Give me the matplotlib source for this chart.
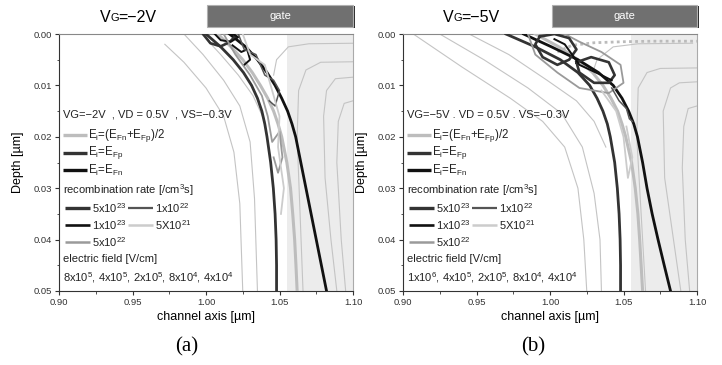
import matplotlib
matplotlib.use('Agg')
import matplotlib.pyplot as plt
from matplotlib.patches import Rectangle

plt.rcParams['font.family'] = ['Liberation Sans', 'DejaVu Sans']
plt.rcParams['mathtext.fontset'] = 'custom'
plt.rcParams['mathtext.rm'] = 'Liberation Sans'
plt.rcParams['lines.solid_joinstyle'] = 'round'

# ---- data ----
depth = [0.0, 0.0025, 0.005, 0.0075, 0.01, 0.0125, 0.015, 0.0175, 0.02,
         0.025, 0.03, 0.035, 0.04, 0.045, 0.05]

# panel (a)  VG=-2V
a_fn = [1.016, 1.027, 1.035, 1.0415, 1.047, 1.0515, 1.0555, 1.0585, 1.061,
        1.0645, 1.068, 1.0715, 1.075, 1.0785, 1.082]
a_fp = [1.000, 1.010, 1.0185, 1.0255, 1.031, 1.035, 1.038, 1.040, 1.0415,
        1.044, 1.0458, 1.047, 1.0477, 1.048, 1.048]
a_mid = [1.008, 1.017, 1.025, 1.0315, 1.037, 1.042, 1.046, 1.049, 1.0515,
         1.055, 1.0575, 1.059, 1.0603, 1.0612, 1.062]
# panel (b)  VG=-5V
b_fn = [0.982, 1.001, 1.019, 1.033, 1.043, 1.049, 1.0535, 1.057, 1.0595,
        1.063, 1.066, 1.0695, 1.0735, 1.0777, 1.082]
b_fp = [0.970, 0.990, 1.007, 1.019, 1.027, 1.032, 1.036, 1.039, 1.041,
        1.044, 1.0458, 1.047, 1.0477, 1.048, 1.048]
b_mid = [0.990, 1.006, 1.019, 1.029, 1.036, 1.0415, 1.046, 1.049, 1.0515,
         1.0555, 1.058, 1.0598, 1.061, 1.062, 1.063]

# electric field contours (x list, y list)
a_field = [
    ([0.972, 0.985, 1.000, 1.012, 1.019, 1.023, 1.025], [0.002, 0.0055, 0.0105, 0.016, 0.023, 0.033, 0.05]),
    ([0.985, 0.998, 1.012, 1.023, 1.030, 1.033, 1.035], [0.0, 0.004, 0.009, 0.014, 0.021, 0.032, 0.05]),
    ([0.997, 1.010, 1.022, 1.032, 1.040], [0.0, 0.004, 0.008, 0.012, 0.017]),
    ([1.1, 1.070, 1.056, 1.048, 1.046], [0.0018, 0.0019, 0.0025, 0.005, 0.008]),
    ([1.1, 1.078, 1.068, 1.063, 1.062, 1.064, 1.066], [0.0054, 0.0055, 0.007, 0.011, 0.02, 0.035, 0.05]),
    ([1.1, 1.088, 1.082, 1.080, 1.081, 1.085, 1.089], [0.0084, 0.0087, 0.011, 0.016, 0.028, 0.04, 0.05]),
    ([1.1, 1.094, 1.090, 1.089, 1.092, 1.095], [0.013, 0.0135, 0.017, 0.025, 0.04, 0.05]),
]
b_field = [
    ([0.907, 0.940, 0.973, 0.995, 1.010, 1.019, 1.023, 1.025], [0.0, 0.0064, 0.0125, 0.017, 0.022, 0.03, 0.04, 0.05]),
    ([0.925, 0.955, 0.985, 1.008, 1.022, 1.030, 1.034, 1.035], [0.0, 0.005, 0.0105, 0.0155, 0.022, 0.031, 0.04, 0.05]),
    ([0.945, 0.972, 0.998, 1.018, 1.030, 1.038], [0.0, 0.004, 0.009, 0.013, 0.017, 0.022]),
    ([1.097, 1.060, 1.043, 1.032, 1.029], [0.0018, 0.0019, 0.0025, 0.005, 0.0075]),
    ([1.1, 1.075, 1.066, 1.060, 1.059, 1.062, 1.065], [0.0066, 0.0067, 0.0075, 0.0105, 0.02, 0.035, 0.05]),
    ([1.1, 1.088, 1.082, 1.077, 1.078, 1.084, 1.089], [0.0093, 0.0095, 0.0105, 0.015, 0.028, 0.04, 0.05]),
    ([1.1, 1.094, 1.091, 1.090, 1.092, 1.095], [0.014, 0.0145, 0.018, 0.026, 0.04, 0.05]),
]

# recombination rate contours: (level index, x list, y list)
rec_labels = ['5x10$^{\\mathregular{23}}$', '1x10$^{\\mathregular{23}}$', '5x10$^{\\mathregular{22}}$',
              '1x10$^{\\mathregular{22}}$', '5X10$^{\\mathregular{21}}$']
a_rec = [
    (0, [0.998, 1.003, 1.010, 1.016, 1.020, 1.019], [0.0, 0.0018, 0.0024, 0.0016, 0.0004, 0.0]),
    (1, [1.006, 1.010, 1.017, 1.022, 1.018], [0.0, 0.0012, 0.0015, 0.0006, 0.0]),
    (1, [1.018, 1.024, 1.028, 1.030, 1.026], [0.0022, 0.0035, 0.0030, 0.0050, 0.0060]),
    (2, [1.012, 1.020, 1.030, 1.038, 1.042, 1.045, 1.050, 1.052, 1.049, 1.046],
        [0.0, 0.004, 0.008, 0.012, 0.016, 0.021, 0.019, 0.024, 0.027, 0.024]),
    (3, [1.022, 1.026, 1.034, 1.040, 1.046, 1.050, 1.047, 1.043],
        [0.0, 0.003, 0.004, 0.008, 0.009, 0.011, 0.014, 0.013]),
    (4, [1.025, 1.030, 1.040, 1.046, 1.050, 1.049, 1.053, 1.051],
        [0.0, 0.004, 0.006, 0.012, 0.016, 0.022, 0.030, 0.035]),
]
b_rec = [
    (2, [0.985, 0.990, 1.005, 1.020, 1.040, 1.050, 1.048, 1.035, 1.020, 1.010],
        [0.0, 0.004, 0.0075, 0.0105, 0.0115, 0.0095, 0.006, 0.0035, 0.0015, 0.0]),
    (0, [0.993, 0.990, 0.995, 1.005, 1.013, 1.018, 1.013, 1.003, 0.993],
        [0.0005, 0.002, 0.0045, 0.006, 0.005, 0.003, 0.0008, 0.0, 0.0005]),
    (0, [1.018, 1.020, 1.030, 1.040, 1.044, 1.040, 1.028, 1.018],
        [0.0055, 0.0075, 0.0095, 0.0095, 0.008, 0.0055, 0.0045, 0.0055]),
    (1, [1.003, 1.010, 1.020, 1.035, 1.042], [0.001, 0.002, 0.006, 0.008, 0.009]),
    (3, [1.042, 1.047, 1.052, 1.054, 1.056], [0.0105, 0.013, 0.0145, 0.0165, 0.017]),
    (4, [1.035, 1.045, 1.050, 1.053, 1.056, 1.052], [0.011, 0.015, 0.020, 0.028, 0.024, 0.018]),
]
b_dot_x = [1.005, 1.015, 1.030, 1.050, 1.070, 1.090, 1.100]
b_dot_y = [0.0035, 0.0022, 0.0017, 0.0015, 0.0014, 0.0014, 0.0014]

rec_col = ['#333333', '#111111', '#9a9a9a', '#555555', '#cccccc']
rec_lw = [1.9, 1.4, 1.3, 1.1, 1.3]
field_text = ['8x10$^{\\mathregular{5}}$, 4x10$^{\\mathregular{5}}$, 2x10$^{\\mathregular{5}}$, 8x10$^{\\mathregular{4}}$, 4x10$^{\\mathregular{4}}$',
              '1x10$^{\\mathregular{6}}$, 4x10$^{\\mathregular{5}}$, 2x10$^{\\mathregular{5}}$, 8x10$^{\\mathregular{4}}$, 4x10$^{\\mathregular{4}}$']
cond_text = ['VG=\u22122V  , VD = 0.5V  , VS=\u22120.3V', 'VG=\u22125V . VD = 0.5V . VS=\u22120.3V']
vg = ['\u22122V', '\u22125V']
panel = ['(a)', '(b)']

W, H = 722, 365
fig = plt.figure(figsize=(W / 100, H / 100), dpi=100)
FS = 8.0


def fx(px):
    return px / W


def fy(py):
    return 1 - py / H


def draw_panel(left_px, fn, fp, mid, field, rec, k):
    ax = fig.add_axes([fx(left_px), fy(291), 294 / W, 257 / H])
    ax.axvspan(1.055, 1.1, color='#ececec', zorder=0, lw=0)
    for xs, ys in field:
        ax.plot(xs, ys, color='#c4c4c4', lw=0.8, zorder=1)
    ax.plot(mid, depth, color='#bdbdbd', lw=2.2, zorder=3)
    ax.plot(fp, depth, color='#333333', lw=2.0, zorder=4)
    ax.plot(fn, depth, color='#111111', lw=2.0, zorder=4)
    for lev, xs, ys in rec:
        ax.plot(xs, ys, color=rec_col[lev], lw=rec_lw[lev], zorder=5)
    if k == 1:
        ax.plot(b_dot_x, b_dot_y, color='#bbbbbb', lw=2.0, ls=(0, (1, 1.2)), zorder=2)

    ax.set_xlim(0.9, 1.1)
    ax.set_ylim(0.05, 0.0)
    ax.set_xticks([0.90, 0.95, 1.00, 1.05, 1.10])
    ax.set_xticklabels(['0.90', '0.95', '1.00', '1.05', '1.10'])
    ax.set_xticks([0.925, 0.975, 1.025, 1.075], minor=True)
    ax.set_yticks([0.0, 0.01, 0.02, 0.03, 0.04, 0.05])
    ax.set_yticklabels(['0.00', '0.01', '0.02', '0.03', '0.04', '0.05'])
    ax.set_yticks([0.005, 0.015, 0.025, 0.035, 0.045], minor=True)
    ax.tick_params(which='major', direction='out', length=3, width=0.8, labelsize=6.8,
                   colors='#333333', pad=2)
    ax.tick_params(which='minor', direction='out', length=1.8, width=0.6, colors='#333333')
    for s in ['left', 'bottom']:
        ax.spines[s].set_color('#333333')
    ax.spines['top'].set_color('#888888')
    ax.spines['right'].set_color('#aaaaaa')
    ax.set_xlabel('channel axis [\u00b5m]', fontsize=9, labelpad=3)
    ax.set_ylabel('Depth [\u00b5m]', fontsize=9, labelpad=7)

    # legend drawn inside the axes
    tr = ax.transAxes
    x0 = 0.014
    ax.text(x0, 0.685, cond_text[k], transform=tr, fontsize=FS, va='center', color='#222222')
    ent = [('#bdbdbd', 'E$_{\\mathregular{i}}$=(E$_{\\mathregular{Fn}}$+E$_{\\mathregular{Fp}}$)/2', 0.607),
           ('#333333', 'E$_{\\mathregular{i}}$=E$_{\\mathregular{Fp}}$', 0.537),
           ('#111111', 'E$_{\\mathregular{i}}$=E$_{\\mathregular{Fn}}$', 0.471)]
    for c, lab, yy in ent:
        ax.plot([x0, 0.095], [yy, yy], transform=tr, color=c, lw=2.4, solid_capstyle='butt')
        ax.text(0.099, yy, lab, transform=tr, fontsize=FS + 0.3, va='center', color='#222222')
    ax.text(x0, 0.393, 'recombination rate [/cm$^{\\mathregular{3}}$s]', transform=tr,
            fontsize=FS, va='center', color='#222222')
    pos = [(0.02, 0.323), (0.02, 0.257), (0.02, 0.191), (0.235, 0.323), (0.235, 0.257)]
    for i, (px, py) in enumerate(pos):
        ax.plot([px, px + 0.085], [py, py], transform=tr, color=rec_col[i], lw=rec_lw[i] + 0.5,
                solid_capstyle='butt')
        ax.text(px + 0.091, py, rec_labels[i], transform=tr, fontsize=FS, va='center',
                color='#222222')
    ax.text(x0, 0.125, 'electric field [V/cm]', transform=tr, fontsize=FS, va='center',
            color='#222222')
    ax.text(x0, 0.054, field_text[k], transform=tr, fontsize=FS, va='center', color='#222222')
    return ax


ax_a = draw_panel(59, a_fn, a_fp, a_mid, a_field, a_rec, 0)
ax_b = draw_panel(403, b_fn, b_fp, b_mid, b_field, b_rec, 1)

# titles, gate boxes, panel labels
for k, (tx, gx0, gx1, px) in enumerate([(100, 207, 353, 187), (443, 552, 697, 533)]):
    fig.text(fx(tx), fy(17), 'V', fontsize=11.5, va='center', ha='left')
    fig.text(fx(tx + 10.5), fy(18.3), 'G', fontsize=8, va='center', ha='left')
    fig.text(fx(tx + 18.5), fy(17), '=' + vg[k], fontsize=11.5, va='center', ha='left')
    fig.patches.append(Rectangle((fx(gx0 + 1.5), fy(28)), (gx1 - gx0) / W, 22 / H,
                                 transform=fig.transFigure, facecolor='#2a2a2a', edgecolor='none'))
    fig.patches.append(Rectangle((fx(gx0), fy(27)), (gx1 - gx0) / W, 22 / H,
                                 transform=fig.transFigure, facecolor='#707070',
                                 edgecolor='#b0b0b0', lw=0.8))
    fig.text(fx((gx0 + gx1) / 2), fy(16), 'gate', fontsize=8, color='white', ha='center', va='center')
    fig.text(fx(px), fy(347), panel[k], fontsize=15, family='Liberation Serif', ha='center', va='center')

fig.savefig('out.png', dpi=100)
